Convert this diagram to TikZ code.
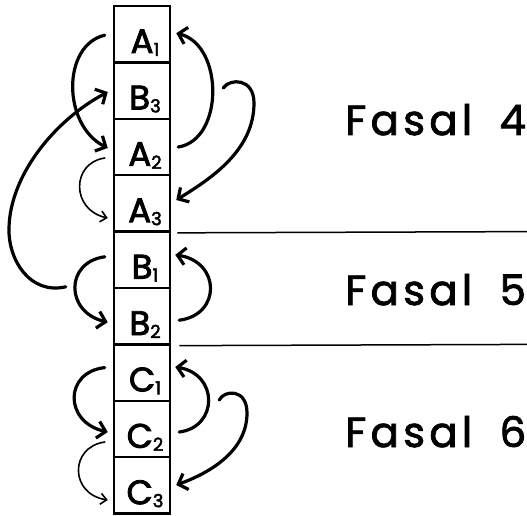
\documentclass[tikz,border=0pt]{standalone}
\usepackage{fontspec}
\setmainfont{Poppins}
\newfontfamily\fasalfont[LetterSpace=10,FakeBold=1.8]{Poppins}
\newfontfamily\lblfont[FakeBold=2.5]{Poppins}
\usetikzlibrary{arrows.meta}
\newcommand{\boxlbl}[2]{\hspace*{6pt}#1\raisebox{-3pt}{\fontsize{18}{18}\selectfont #2}}
\begin{document}
\begin{tikzpicture}[x=1pt,y=-1pt,
  cell/.style={draw, line width=2.5pt, minimum width=56pt, minimum height=56.4pt,
    inner sep=0pt, text height=47pt, text depth=9.4pt, font=\lblfont\fontsize{34}{34}\selectfont},
  bigarrow/.style={line width=3.2pt, line cap=round, -{Straight Barb[length=8pt,width=17pt]}},
  thinarrow/.style={line width=1.6pt, line cap=round, -{Straight Barb[length=6pt,width=11pt]}},
  sepline/.style={line width=1.5pt},
  fasal/.style={font=\fasalfont\fontsize{42}{42}\selectfont, inner sep=0pt, anchor=base west}]
\useasboundingbox (0,0) rectangle (527,516);
\node[cell] (A1) at (142,34.2) {\boxlbl{A}{1}};
\node[cell] (B3) at (142,90.6) {\boxlbl{B}{3}};
\node[cell] (A2) at (142,147) {\boxlbl{A}{2}};
\node[cell] (A3) at (142,203.4) {\boxlbl{A}{3}};
\node[cell] (B1) at (142,259.8) {\boxlbl{B}{1}};
\node[cell] (B2) at (142,316.2) {\boxlbl{B}{2}};
\node[cell] (C1) at (142,372.6) {\boxlbl{C}{1}};
\node[cell] (C2) at (142,429) {\boxlbl{C}{2}};
\node[cell] (C3) at (142,485.4) {\boxlbl{C}{3}};
% separator lines
\coordinate (L1) at (527,231.6);
\coordinate (L2) at (527,344.4);
\draw[sepline] ([xshift=6pt]A3.south east) -- (L1);
\draw[sepline] ([xshift=8pt]B2.south east) -- (L2);
% labels
\node[fasal] (F4) at (345,135) {Fasal\ \hspace{12pt}4};
\node[fasal] (F5) at (345,305) {Fasal\ \hspace{12pt}5};
\node[fasal] (F6) at (345,447) {Fasal\ \hspace{12pt}6};
% left arrows
\draw[bigarrow] ([shift={(-8,1)}]A1.west) .. controls (62,45) and (62,125) .. ([shift={(-5,1)}]A2.west);
\draw[thinarrow] ([shift={(-8,11)}]A2.west) .. controls (71,163) and (71,210) .. ([shift={(-5,14.6)}]A3.west);
\draw[bigarrow] ([shift={(-8,-3)}]B1.west) .. controls (65,262) and (65,312) .. ([shift={(-5,6)}]B2.west);
\draw[bigarrow] ([shift={(-8,-5)}]C1.west) .. controls (64,372) and (64,422) .. ([shift={(-5,3)}]C2.west);
\draw[thinarrow] ([shift={(-8,13)}]C2.west) .. controls (69.5,447) and (69.5,494) .. ([shift={(-5,14.6)}]C3.west);
\draw[bigarrow] ([shift={(-47,27)}]B1.west) .. controls (30,295) and (8,260) .. (9,228)
   .. controls (10,175) and (55,120) .. ([shift={(-5,1.4)}]B3.west);
% right arrows
\draw[bigarrow] ([shift={(7,0)}]A2.east) .. controls (224,140) and (224,45) .. ([shift={(5,-1)}]A1.east);
\draw[bigarrow] ([shift={(8,4)}]B2.east) .. controls (221,315) and (221,262) .. ([shift={(4,-5)}]B1.east);
\draw[bigarrow] ([shift={(8,3)}]C2.east) .. controls (218.5,427) and (218.5,374) .. ([shift={(4,-5.6)}]C1.east);
\draw[bigarrow] ([shift={(52,-2.6)}]B3.east) .. controls (230,78) and (254,78) .. (254,103)
   .. controls (254,150) and (212,178) .. ([shift={(5,-3.4)}]A3.east);
\draw[bigarrow] ([shift={(48,-29)}]C2.east) .. controls (224,390) and (247,388) .. (247,413)
   .. controls (247,450) and (212,472) .. ([shift={(5,-0.4)}]C3.east);
\end{tikzpicture}
\end{document}
